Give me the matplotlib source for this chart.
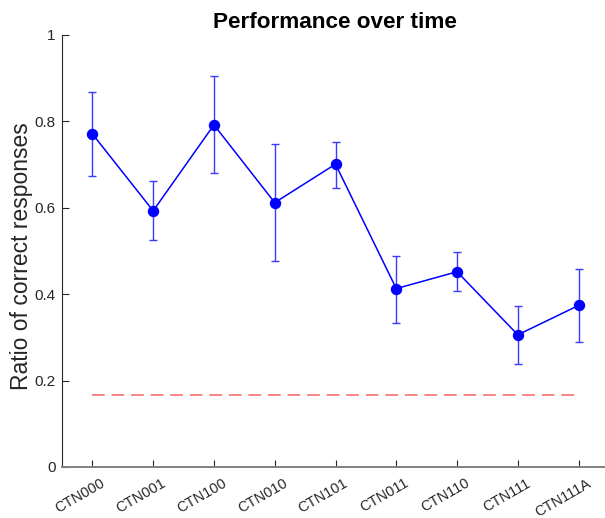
import numpy as np
import matplotlib.pyplot as plt
import matplotlib.transforms as mtransforms

plt.rcParams['font.family'] = ['Liberation Sans', 'DejaVu Sans']

# Data
conditions = ["CTN000", "CTN001", "CTN100", "CTN010", "CTN101",
              "CTN011", "CTN110", "CTN111", "CTN111A"]
ratio_mean = [0.771, 0.593, 0.792, 0.612, 0.701, 0.413, 0.452, 0.306, 0.374]
err_upper = [0.867, 0.662, 0.905, 0.748, 0.752, 0.489, 0.498, 0.373, 0.459]
err_lower = [0.674, 0.525, 0.680, 0.477, 0.646, 0.334, 0.408, 0.239, 0.290]
chance_level = 1 / 6

x = np.arange(1, len(conditions) + 1)
mean = np.array(ratio_mean)
yerr = np.vstack([mean - np.array(err_lower), np.array(err_upper) - mean])

axis_gray = "#262626"

fig = plt.figure(figsize=(6.05, 5.18), dpi=100)
ax = fig.add_axes([62 / 605, 51 / 518, 547 / 605, 432 / 518])

# Error bars (slightly lighter) then the line with markers
ax.errorbar(x, mean, yerr=yerr, fmt="none", ecolor="#3a3aff", elinewidth=1.0,
            capsize=2.9, capthick=1.0, zorder=2)
ax.plot(x, mean, "-o", color="#0000ff", lw=1.1, markersize=7.2, zorder=3)

# Chance level
ax.plot([x[0], x[-1]], [chance_level, chance_level], "--", color="#f26464",
        lw=1.1, dashes=(8.3, 4.5), zorder=1)

ax.set_xlim(0.5, 9.5)
ax.set_ylim(0, 1)
ax.set_yticks([0, 0.2, 0.4, 0.6, 0.8, 1])
ax.set_yticklabels(["0", "0.2", "0.4", "0.6", "0.8", "1"])
ax.set_xticks(x)
ax.set_xticklabels(conditions, rotation=30, ha="right", rotation_mode="anchor")

for side in ["top", "right"]:
    ax.spines[side].set_visible(False)
ax.spines["left"].set_color(axis_gray)
ax.spines["bottom"].set_color("#808080")
ax.spines["bottom"].set_linewidth(1.4)
ax.tick_params(direction="in", length=5, colors=axis_gray)
ax.tick_params(axis="y", labelsize=11, pad=4.6)
ax.tick_params(axis="x", labelsize=10.5, pad=6.5)

# MATLAB puts the rotated labels a bit right of the ticks
shift = mtransforms.ScaledTranslation(8 / 100, 0, fig.dpi_scale_trans)
for lbl in ax.get_xticklabels():
    lbl.set_transform(lbl.get_transform() + shift)

ax.set_ylabel("Ratio of correct responses", fontsize=16.5, color=axis_gray)
ax.yaxis.set_label_coords(-0.053, 0.487)
fig.text(335 / 605, 1 - 28.3 / 518, "Performance over time", fontsize=16.2,
         fontweight="bold", ha="center", va="baseline")

fig.savefig("out.png", dpi=100)
